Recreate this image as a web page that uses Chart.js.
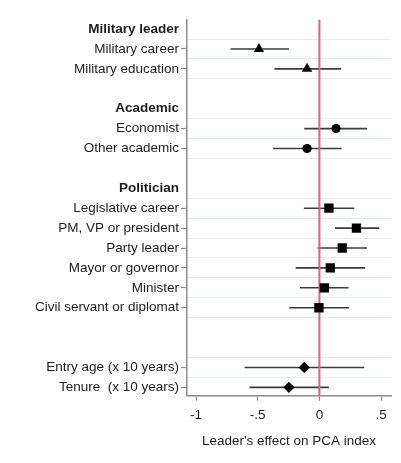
<!DOCTYPE html>
<html>
<head>
<meta charset="utf-8">
<script src="https://cdn.jsdelivr.net/npm/chart.js@4/dist/chart.umd.min.js"></script>
<style>
  html, body { margin: 0; padding: 0; background: #ffffff; }
  #wrap { width: 401px; height: 463px; }
</style>
</head>
<body>
<div id="wrap"><canvas id="c" width="401" height="463"></canvas></div>
<script>
// Row labels (top to bottom); headers in bold
const rowLabels = ['Military leader', 'Military career', 'Military education', '',
  'Academic', 'Economist', 'Other academic', '',
  'Politician', 'Legislative career', 'PM, VP or president', 'Party leader',
  'Mayor or governor', 'Minister', 'Civil servant or diplomat', '', '',
  'Entry age (x 10 years)', 'Tenure  (x 10 years)'];
const headers = ['Military leader', 'Academic', 'Politician'];

// Estimated coefficients and confidence intervals
const categories = ['Military career', 'Military education', 'Economist', 'Other academic',
  'Legislative career', 'PM, VP or president', 'Party leader', 'Mayor or governor',
  'Minister', 'Civil servant or diplomat', 'Entry age (x 10 years)', 'Tenure  (x 10 years)'];
const estimates = [-0.49, -0.10, 0.135, -0.10, 0.077, 0.30, 0.185, 0.088, 0.04, -0.004, -0.123, -0.247];
const lowerCI = [-0.72, -0.365, -0.123, -0.375, -0.126, 0.126, -0.015, -0.193, -0.158, -0.245, -0.606, -0.566];
const upperCI = [-0.247, 0.177, 0.387, 0.18, 0.282, 0.485, 0.385, 0.371, 0.236, 0.239, 0.363, 0.077];
const markerStyles = ['triangle', 'triangle', 'circle', 'circle', 'rect', 'rect', 'rect', 'rect',
  'rect', 'rect', 'rectRot', 'rectRot'];
const xTicks = [-1, -0.5, 0, 0.5];

const rowOf = name => rowLabels.indexOf(name);
const dataRows = categories.map(rowOf);
const boundaries = [];
dataRows.forEach(r => {
  [r - 0.5, r + 0.5].forEach(b => { if (b < rowLabels.length - 0.6 && !boundaries.includes(b)) boundaries.push(b); });
});
const yTickValues = rowLabels.map((_, i) => i).concat(boundaries);

const radiusFor = s => ({triangle: 6, circle: 4.6, rect: 6.6, rectRot: 5.6}[s]);
const FONT = 'Liberation Sans, Arial, Helvetica, sans-serif';
const TEXT = '#1c1c24';
const AXIS = '#8c8c8c';

const ciSets = categories.map((c, i) => ({
  type: 'line',
  data: [{x: lowerCI[i], y: rowOf(c)}, {x: upperCI[i], y: rowOf(c)}],
  borderColor: '#3c3c3c',
  borderWidth: 1.6,
  pointRadius: 0,
  order: 3
}));

const pointSet = {
  type: 'scatter',
  data: categories.map((c, i) => ({x: estimates[i], y: rowOf(c)})),
  pointStyle: markerStyles,
  pointRadius: markerStyles.map(radiusFor),
  pointHoverRadius: markerStyles.map(radiusFor),
  backgroundColor: '#000000',
  borderColor: '#000000',
  borderWidth: 0,
  order: 0
};

const Y_MIN = -0.48, Y_MAX = 18.42;

const zeroLine = {
  type: 'line',
  data: [{x: 0, y: Y_MIN}, {x: 0, y: Y_MAX}],
  borderColor: '#d9627f',
  borderWidth: 2,
  pointRadius: 0,
  order: 1
};

new Chart(document.getElementById('c'), {
  type: 'scatter',
  data: { datasets: [pointSet, zeroLine, ...ciSets] },
  options: {
    responsive: false,
    animation: false,
    events: [],
    layout: { padding: { left: 0, right: 10, top: 19.5, bottom: 15.3 } },
    plugins: { legend: { display: false }, tooltip: { enabled: false } },
    scales: {
      x: {
        type: 'linear',
        min: -1.073,
        max: 0.58,
        afterBuildTicks: s => { s.ticks = xTicks.map(v => ({value: v})); },
        afterFit: s => { s.height = 52; },
        ticks: {
          autoSkip: false,
          maxRotation: 0,
          padding: 6,
          color: TEXT,
          font: { family: FONT, size: 13.5 },
          callback: v => v === 0 ? '0' : String(v).replace('0.', '.')
        },
        grid: { drawOnChartArea: false, drawTicks: true, tickLength: 5, tickColor: AXIS, tickWidth: 1.2 },
        border: { display: true, color: AXIS, width: 1.5 },
        title: {
          display: true,
          text: "Leader's effect on PCA index",
          color: TEXT,
          font: { family: FONT, size: 13.5 },
          padding: { top: 0, bottom: -1.5 }
        }
      },
      y: {
        type: 'linear',
        reverse: true,
        min: Y_MIN,
        max: Y_MAX,
        afterBuildTicks: s => { s.ticks = yTickValues.map(v => ({value: v})); },
        afterFit: s => { s.width = 187; },
        ticks: {
          autoSkip: false,
          padding: 2,
          color: TEXT,
          font: ctx => {
            const v = ctx.tick ? ctx.tick.value : null;
            const bold = Number.isInteger(v) && headers.includes(rowLabels[v]);
            return { family: FONT, size: 13.5, weight: bold ? 'bold' : 'normal' };
          },
          callback: v => Number.isInteger(v) ? rowLabels[v] : ''
        },
        grid: {
          drawOnChartArea: true,
          drawTicks: true,
          tickLength: 6,
          lineWidth: 1,
          tickWidth: 1.2,
          color: ctx => (ctx.tick && !Number.isInteger(ctx.tick.value)) ? '#e3eef0' : 'rgba(0,0,0,0)',
          tickColor: ctx => (ctx.tick && dataRows.includes(ctx.tick.value)) ? AXIS : 'rgba(0,0,0,0)'
        },
        border: { display: true, color: AXIS, width: 1.5 }
      }
    }
  }
});
</script>
</body>
</html>
